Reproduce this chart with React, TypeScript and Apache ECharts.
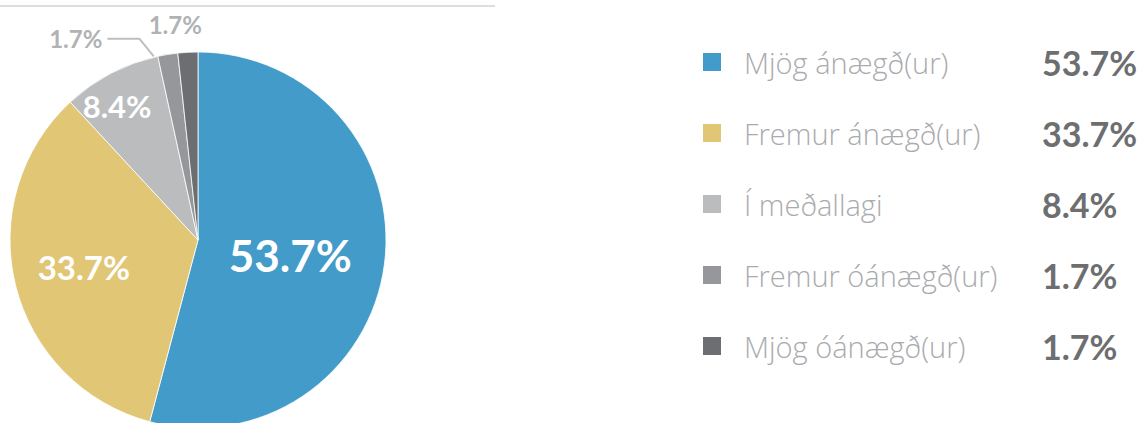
import React, { useEffect, useRef } from "react";
import * as echarts from "echarts";

const categories = [
  "Mjög ánægð(ur)",
  "Fremur ánægð(ur)",
  "Í meðallagi",
  "Fremur óánægð(ur)",
  "Mjög óánægð(ur)",
];
const values = [53.7, 33.7, 8.4, 1.7, 1.7];
const colors = ["#429BC8", "#E1C675", "#BBBCBE", "#96979A", "#6D6E72"];

const NUM_FONT = "Lato";
const TXT_FONT = "Open Sans";

export default function App() {
  const ref = useRef<HTMLDivElement>(null);

  useEffect(() => {
    document.body.style.margin = "0";
    const chart = echarts.init(ref.current!, null, { renderer: "svg" });
    const fmt = (v: number) => v.toFixed(1) + "%";

    const labelCfg: any[] = [
      { position: "inside", fontSize: 44 },
      { position: "inside", fontSize: 33 },
      { position: "inside", fontSize: 31 },
      { position: "outside", fontSize: 24, color: "#B1B2B4" },
      { position: "outside", fontSize: 24, color: "#B1B2B4" },
    ];
    const lineCfg: any[] = [
      { show: false },
      { show: false },
      { show: false },
      { show: true, length: 15, length2: 30, lineStyle: { color: "#BDBEC0", width: 2 } },
      { show: false, length: 18, length2: 0 },
    ];
    const labelShift: number[][] = [
      [-4, 2],
      [-20, 4],
      [-36, -48],
      [-28, -1],
      [20, -10],
    ];
    // offsets applied to the leader line's three points (start, bend, end)
    const lineShift: number[][] = [
      [-14, 2],
      [-26, -1],
      [-28, -1],
    ];

    chart.setOption({
      animation: false,
      graphic: [
        {
          type: "line",
          shape: { x1: 0, y1: 6, x2: 495, y2: 6 },
          style: { stroke: "#DDDDDD", lineWidth: 2 },
        },
      ],
      legend: {
        orient: "vertical",
        left: 696,
        top: 40,
        icon: "rect",
        itemWidth: 20,
        itemHeight: 20,
        itemGap: 37,
        selectedMode: false,
        data: categories,
        formatter: (name: string) => {
          const i = categories.indexOf(name);
          return `{s|}{n|${name}}{v|${fmt(values[i])}}`;
        },
        textStyle: {
          rich: {
            s: { width: 17, height: 40 },
            n: {
              width: 298,
              fontSize: 29,
              fontWeight: 300,
              fontFamily: TXT_FONT,
              color: "#A9ABAE",
              lineHeight: 40,
            },
            v: {
              fontSize: 34,
              fontWeight: "bold",
              fontFamily: NUM_FONT,
              color: "#6D6E70",
              lineHeight: 40,
            },
          },
        },
      },
      series: [
        {
          type: "pie",
          center: [198, 240],
          radius: 188,
          startAngle: 90,
          clockwise: true,
          avoidLabelOverlap: false,
          itemStyle: { borderColor: "#FFFFFF", borderWidth: 0.8 },
          label: {
            color: "#FFFFFF",
            fontWeight: "bold",
            fontFamily: NUM_FONT,
            formatter: (p: any) => fmt(p.value),
          },
          labelLayout: (p: any) => {
            const s = labelShift[p.dataIndex];
            const out: any = { dx: s[0], dy: s[1] };
            if (p.dataIndex === 3 && p.labelLinePoints) {
              out.labelLinePoints = p.labelLinePoints.map((pt: number[], k: number) => [
                pt[0] + lineShift[k][0],
                pt[1] + lineShift[k][1],
              ]);
            }
            return out;
          },
          data: categories.map((name, i) => ({
            name,
            value: values[i],
            itemStyle: { color: colors[i] },
            label: labelCfg[i],
            labelLine: lineCfg[i],
          })),
        },
      ],
    });
    return () => chart.dispose();
  }, []);

  return <div ref={ref} style={{ width: 1142, height: 423 }} />;
}
